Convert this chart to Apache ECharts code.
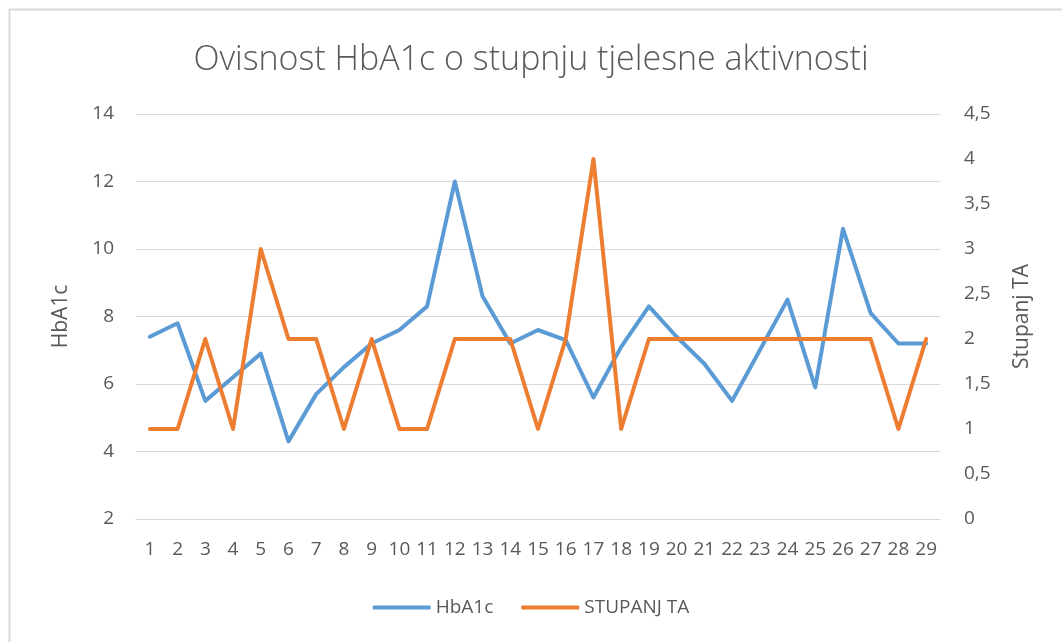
<!DOCTYPE html>
<html>
<head>
<meta charset="utf-8">
<script src="https://cdn.jsdelivr.net/npm/echarts@6/dist/echarts.min.js"></script>
<style>
html,body{margin:0;padding:0;background:#fff;}
#c{width:1062px;height:642px;}
</style>
</head>
<body>
<div id="c"></div>
<script>
const categories = ['1','2','3','4','5','6','7','8','9','10','11','12','13','14','15','16','17','18','19','20','21','22','23','24','25','26','27','28','29'];
const hba1c = [7.4,7.8,5.5,6.2,6.9,4.3,5.7,6.5,7.2,7.6,8.3,12.0,8.6,7.2,7.6,7.3,5.6,7.1,8.3,7.4,6.6,5.5,7.0,8.5,5.9,10.6,8.1,7.2,7.2];
const stupanjTA = [1,1,2,1,3,2,2,1,2,1,1,2,2,2,1,2,4,1,2,2,2,2,2,2,2,2,2,1,2];
const titleText = 'Ovisnost HbA1c o stupnju tjelesne aktivnosti';
const seriesNames = ['HbA1c','STUPANJ TA'];
const axisNames = ['HbA1c','Stupanj TA'];

const txt = '#595959';
const fontFam = '"Open Sans", "Noto Sans", sans-serif';
const chart = echarts.init(document.getElementById('c'));
chart.setOption({
  animation:false,
  backgroundColor:'#fff',
  title:{text:titleText,left:'center',top:38,
    textStyle:{fontFamily:fontFam,fontWeight:300,fontSize:34,color:txt}},
  graphic:[{type:'rect',shape:{x:9.5,y:9.5,width:1200,height:800},
    style:{fill:null,stroke:'#d9d9d9',lineWidth:2},silent:true}],
  legend:{bottom:20,left:'center',itemWidth:58,itemHeight:4,itemGap:28,icon:'roundRect',
    textStyle:{fontFamily:fontFam,fontSize:19,color:txt},
    data:seriesNames},
  grid:{left:136,right:122,top:114,bottom:123,containLabel:false},
  xAxis:{type:'category',data:categories,boundaryGap:true,
    axisLine:{show:true,lineStyle:{color:'#d9d9d9',width:1}},
    axisTick:{show:false},
    axisLabel:{interval:0,color:txt,fontFamily:fontFam,fontSize:19,margin:21}},
  yAxis:[
    {type:'value',min:2,max:14,interval:2,name:axisNames[0],nameLocation:'middle',nameRotate:90,nameGap:64,
     nameTextStyle:{fontFamily:fontFam,fontSize:21,color:txt},
     axisLine:{show:false},axisTick:{show:false},
     axisLabel:{color:txt,fontFamily:fontFam,fontSize:19,margin:22},
     splitLine:{lineStyle:{color:'#d9d9d9',width:1}}},
    {type:'value',min:0,max:4.5,interval:0.5,name:axisNames[1],nameLocation:'middle',nameRotate:90,nameGap:72,
     nameTextStyle:{fontFamily:fontFam,fontSize:21,color:txt},
     axisLine:{show:false},axisTick:{show:false},
     axisLabel:{color:txt,fontFamily:fontFam,fontSize:19,margin:24,
       formatter:v=>String(v).replace('.',',')},
     splitLine:{show:false}}
  ],
  series:[
    {name:seriesNames[0],type:'line',data:hba1c,yAxisIndex:0,symbol:'none',
     lineStyle:{color:'#5B9BD5',width:4,cap:'round',join:'round'},itemStyle:{color:'#5B9BD5'}},
    {name:seriesNames[1],type:'line',data:stupanjTA,yAxisIndex:1,symbol:'none',
     lineStyle:{color:'#ED7D31',width:4,cap:'round',join:'round'},itemStyle:{color:'#ED7D31'}}
  ]
});
</script>
</body>
</html>
